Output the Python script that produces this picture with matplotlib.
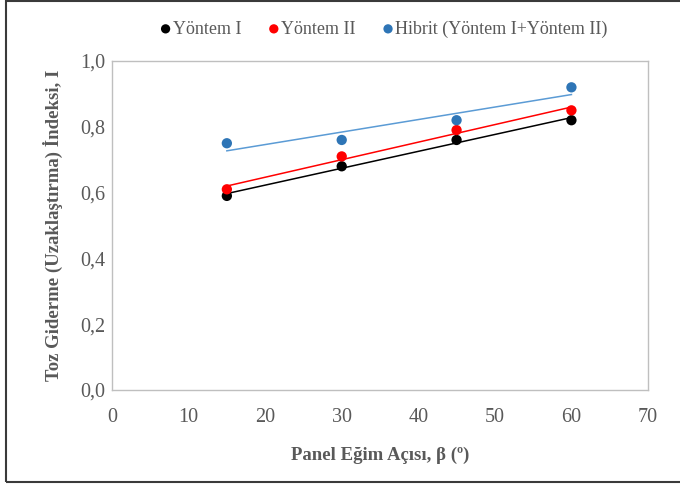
import numpy as np
import matplotlib.pyplot as plt
from matplotlib.patches import Rectangle

# Veriler: panel eğim açısı ve toz giderme indeksleri
egim_acisi = [15, 30, 45, 60]
yontem_1 = [0.59, 0.68, 0.76, 0.82]
yontem_2 = [0.61, 0.71, 0.79, 0.85]
hibrit = [0.75, 0.76, 0.82, 0.92]

seriler = [
    ("Yöntem I", yontem_1, "#000000", "#000000"),
    ("Yöntem II", yontem_2, "#ff0000", "#ff0000"),
    ("Hibrit (Yöntem I+Yöntem II)", hibrit, "#2e75b6", "#5b9bd5"),
]

plt.rcParams['font.family'] = ['Liberation Serif', 'DejaVu Serif']
gri = "#595959"

fig = plt.figure(figsize=(6.8, 4.86), dpi=100)
ax = fig.add_axes([112 / 680, 1 - 390 / 486, 536 / 680, 329 / 486])

x = np.array(egim_acisi)
for ad, y, renk, cizgi in seriler:
    ax.scatter(x, y, s=55, color=renk, zorder=3, label=ad, edgecolors="none")
    # doğrusal eğilim çizgisi
    m, b = np.polyfit(x, y, 1)
    ax.plot(x, m * x + b, color=cizgi, lw=1.1, zorder=2)

ax.set_xlim(0, 70)
ax.set_ylim(0, 1.0)
ax.set_xticks(range(0, 71, 10))
ax.set_yticks(np.arange(0, 1.01, 0.2))
ax.set_yticklabels([f"{v:.1f}".replace(".", ",") for v in np.arange(0, 1.01, 0.2)])
ax.tick_params(length=0, labelsize=14.5, colors=gri)
ax.tick_params(axis="x", pad=13)
ax.tick_params(axis="y", pad=5)
for s in ax.spines.values():
    s.set_color("#bfbfbf")
    s.set_linewidth(1.0)

ax.set_xlabel("Panel Eğim Açısı, β (º)", fontsize=13.5, fontweight="bold", color=gri, labelpad=14)
ax.set_ylabel("Toz Giderme (Uzaklaştırma) İndeksi, I", fontsize=13.5, fontweight="bold",
              color=gri, labelpad=12)

leg = fig.legend(loc="center", bbox_to_anchor=(383 / 680, 1 - 29 / 486), ncol=3, frameon=False,
                 fontsize=13, handlelength=0.8, handletextpad=0.0, columnspacing=1.4,
                 markerscale=0.9)
for t in leg.get_texts():
    t.set_color(gri)

# dış çerçeve
fig.patches.append(Rectangle((6 / 680, 4 / 486), 1.0, 1 - 5 / 486, transform=fig.transFigure,
                             fill=False, edgecolor="#3a3a3a", lw=1.5))

fig.savefig("out.png", dpi=100)
